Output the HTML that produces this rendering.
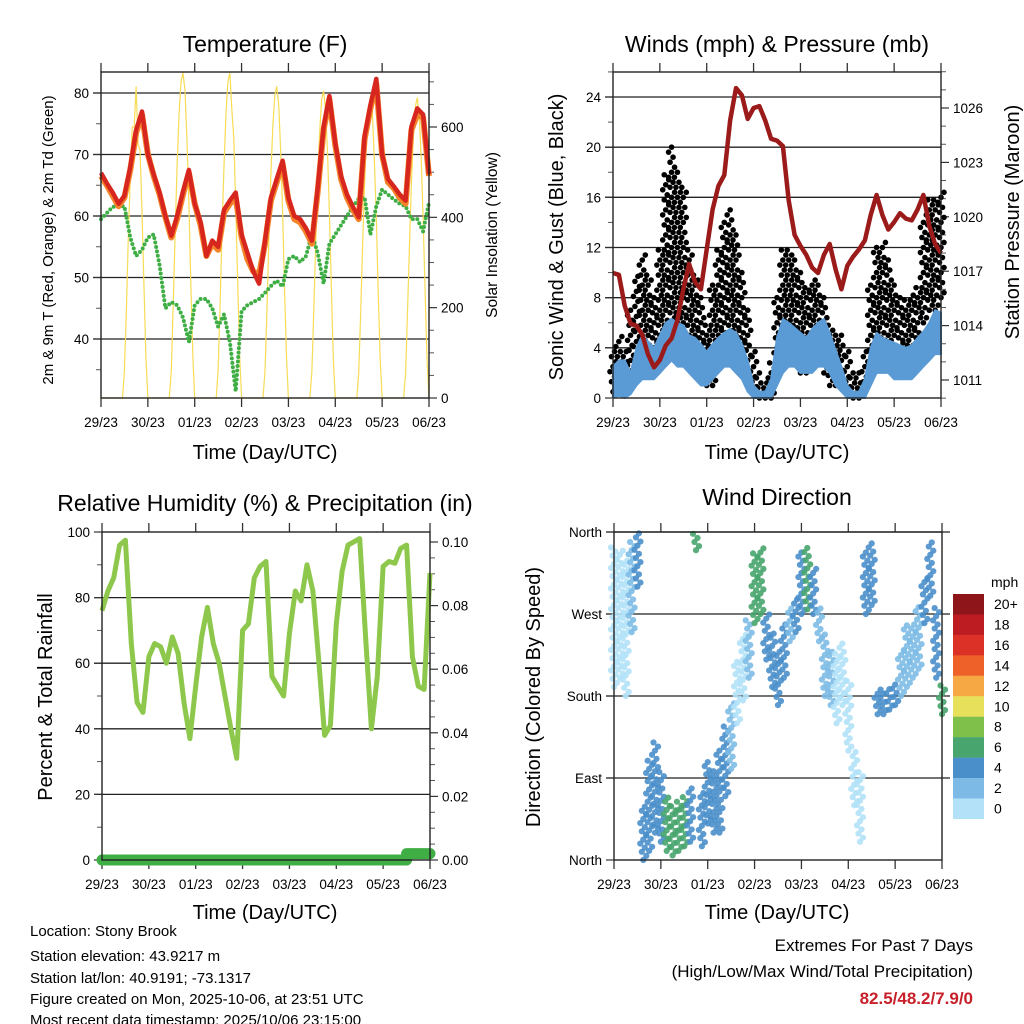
<!DOCTYPE html>
<html><head><meta charset="utf-8">
<style>
html,body{margin:0;padding:0;background:#fff;}
svg{display:block;font-family:"Liberation Sans",Arial,sans-serif;}
</style></head>
<body>
<svg id="chart" width="1024" height="1024" viewBox="0 0 1024 1024" xmlns="http://www.w3.org/2000/svg">
<rect x="0" y="0" width="1024" height="1024" fill="#fff"/>
<g id="layer"></g>
<text x="265" y="52" font-size="23" text-anchor="middle">Temperature (F)</text>
<text x="777" y="52" font-size="23" text-anchor="middle">Winds (mph) &amp; Pressure (mb)</text>
<text x="265" y="511" font-size="23" text-anchor="middle">Relative Humidity (%) &amp; Precipitation (in)</text>
<text x="777" y="505" font-size="23" text-anchor="middle">Wind Direction</text>
<text x="265" y="459" font-size="20" text-anchor="middle">Time (Day/UTC)</text>
<text x="777" y="459" font-size="20" text-anchor="middle">Time (Day/UTC)</text>
<text x="265" y="919" font-size="20" text-anchor="middle">Time (Day/UTC)</text>
<text x="777" y="919" font-size="20" text-anchor="middle">Time (Day/UTC)</text>
<text transform="translate(53,240) rotate(-90)" font-size="15" text-anchor="middle">2m &amp; 9m T (Red, Orange) &amp; 2m Td (Green)</text>
<text transform="translate(497,235) rotate(-90)" font-size="15.5" text-anchor="middle">Solar Insolation (Yellow)</text>
<text transform="translate(563,237) rotate(-90)" font-size="20" text-anchor="middle">Sonic Wind &amp; Gust (Blue, Black)</text>
<text transform="translate(1019,222) rotate(-90)" font-size="20" text-anchor="middle">Station Pressure (Maroon)</text>
<text transform="translate(52,697) rotate(-90)" font-size="20" text-anchor="middle">Percent &amp; Total Rainfall</text>
<text transform="translate(540,697) rotate(-90)" font-size="20" text-anchor="middle">Direction (Colored By Speed)</text>
<g font-size="15">
<text x="30" y="936">Location: Stony Brook</text>
<text x="30" y="961">Station elevation: 43.9217 m</text>
<text x="30" y="983">Station lat/lon: 40.9191; -73.1317</text>
<text x="30" y="1004">Figure created on Mon, 2025-10-06, at 23:51 UTC</text>
<text x="30" y="1025">Most recent data timestamp: 2025/10/06 23:15:00</text>
</g>
<text x="973" y="951" font-size="17" text-anchor="end">Extremes For Past 7 Days</text>
<text x="973" y="977" font-size="17" text-anchor="end">(High/Low/Max Wind/Total Precipitation)</text>
<text x="973" y="1004" font-size="17" font-weight="bold" fill="#c8202a" text-anchor="end">82.5/48.2/7.9/0</text>
</svg>
<script>
// ---- data (3-hourly, t = k*0.125 day, k=0..56) ----
const dayLabels=['29/23','30/23','01/23','02/23','03/23','04/23','05/23','06/23'];
const temp2m=[67,65.3,63.8,62,63.3,68,74,77,70,66.8,63.8,60,56.8,60,64,67.5,62,59,53.5,56,55,61,62.5,63.8,57,54,51,49,56,63,66,69,63,60,59.5,58,56,64.5,74.5,79.5,71.8,66.5,63.5,61.5,59.8,73,78,82.3,70,66,64.8,63.5,62.5,74.5,77.5,76.5,66.8];
const temp9m=[66.5,65,63.3,61.6,63,67.5,73.5,76.5,70,66.5,63.5,59.8,56.5,59.5,63.5,67,62,58.5,53.5,55.5,54.5,60.5,62,63,56.5,53,51,50.5,55.5,62.5,65.5,68.5,62.5,59.5,59,57.5,55.5,64,74,79,71.5,66,63,61,59.5,72.5,77.5,81.5,70,65.5,64.5,63,62,74,76.5,76,66.5];
const dewpoint=[59.5,60.5,61.5,61.6,61.6,56.5,53.5,54.5,56.5,57,52,45,46,45.5,43.5,39.5,45.5,46.5,46.5,45,42,44,39.5,31.5,44.5,45.5,46,46.5,47.5,48.6,49.5,48.5,53,53.5,52.5,53.5,57,54,49,55.5,57,58.5,60,61.5,62.8,63,57,61.6,64.3,63.5,62.7,62,61.6,59.5,59.5,57.5,62.2];
// hourly solar insolation (169 values, hour 0..168)
const solar=[0,0,0,0,0,0,0,0,0,0,0,0,60,195,355,490,600,600,690,560,550,410,245,90,
0,0,0,0,0,0,0,0,0,0,0,0,60,205,370,515,630,700,720,680,575,430,255,95,
0,0,0,0,0,0,0,0,0,0,0,0,60,205,370,515,630,700,720,640,575,430,255,95,
0,0,0,0,0,0,0,0,0,0,0,0,60,195,355,495,600,670,690,650,550,415,245,90,
0,0,0,0,0,0,0,0,0,0,0,0,60,195,350,485,590,660,680,640,545,410,240,85,
0,0,0,0,0,0,0,0,0,0,0,0,55,190,340,475,580,645,665,630,530,400,235,85,
0,0,0,0,0,0,0,0,0,0,0,0,55,190,340,475,580,645,665,625,530,400,235,85,0];
const gustLo=[0.5,0.5,0.5,1,2.5,3,3,2,3,5,6,6,4,3,3,2,1,1,3,4,5,3,2,1,0.5,0,0,0,2,3,3,3,2,2,3,3,2,1,1,1,0.5,0,0,0.5,3,4,4,3,3,2,3,3,4,6,7,7,8];
const gustHi=[4,5,4,7,10,11.5,10,8,12,18,20,18,17,12,10,8,6,9,12,14,15,13,10,7,4,2,1.5,3,8,12,12,11,10,9,9.5,9,8,6,5,5,4,2,2,4,9,12,12.5,11,9,8,8,8.5,9,14,16,16,16.5];
const windLo=[0,0.2,0,0.3,1,1.5,1.5,1.5,2,2.5,3,2.5,2.5,2,1.5,1,1,1.5,2,2.5,2.5,2,1.5,0.5,0,0,0,0,1,2,2.5,2.5,2,2,2,2.5,2.5,2,1,0.5,0,0,0,0,1,2,2,2,1.5,1.5,1.5,1.5,2,2.5,3,3.5,3.5];
const windHi=[2.5,3,3,2,4,5,4.5,4,5,6,6.3,6,5.8,5,4.8,4.3,3.7,4.3,4.8,5.2,5.5,5.2,4.3,3,1,0.5,0.5,1.5,4.8,6.3,6,5.6,5.2,4.8,5.5,6,6.3,5.2,3.8,2.5,1,0.5,0.5,1.5,4,5.2,4.8,4.6,4.4,4.2,4,4.2,4.8,5.3,6,7,6.8];
const pressure=[1016.9,1016.8,1015.1,1014.1,1014.0,1013.5,1012.4,1011.7,1012.1,1012.9,1013.3,1014.3,1016.0,1017.4,1016.4,1016.0,1018.2,1020.4,1021.7,1022.3,1025.3,1027.1,1026.7,1025.4,1026.0,1026.1,1025.3,1024.3,1024.2,1023.9,1020.9,1019.0,1018.4,1017.9,1017.2,1016.9,1017.9,1018.5,1017.1,1016.0,1017.3,1017.8,1018.2,1018.7,1020.1,1021.2,1020.1,1019.3,1019.7,1020.2,1019.9,1019.8,1020.4,1021.2,1019.5,1018.5,1018.0];
const humidity=[76,82,86,96,97.5,66,48,45,62,66,65,60,68,63,48,37,53,68,77,66,60,50,40,31,70,72,86,89.5,91,56,53,50,69,82,79,90,82,61,38,41,72,88,96,97,98,68,40,56,89.5,91,90.5,95,96,62,53,52,87.5];
const precip=[0,0,0,0,0,0,0,0,0,0,0,0,0,0,0,0,0,0,0,0,0,0,0,0,0,0,0,0,0,0,0,0,0,0,0,0,0,0,0,0,0,0,0,0,0,0,0,0,0,0,0,0,0.002,0.002,0.002,0.002,0.002];
const dirLo=[190,200,180,250,300,0,10,30,20,10,5,10,15,20,340,15,40,30,30,70,100,150,175,200,260,270,220,190,170,200,240,250,270,275,270,240,180,170,150,170,120,60,20,270,280,160,160,165,170,180,190,200,210,260,290,200,160];
const dirHi=[345,340,330,350,360,60,110,130,100,70,60,65,70,80,360,75,110,100,120,150,175,220,250,265,340,345,270,250,230,260,280,290,340,345,320,280,250,230,230,240,200,120,100,340,350,190,185,190,195,230,260,260,280,310,350,280,195];
const dirSpeed=[1,1,1,1.5,3,3,3,3,3.5,5,6,5,5,4,6,3,3.5,4,4,3,2,1,1,1.5,5,6,3,4,4,3,2.5,3,4,5,4,2,2,1.5,1,1,1,1,1,3,4,4,4,4,3.5,2,2,2,2.5,3,4,4,6];
const cbLabels=['20+','18','16','14','12','10','8','6','4','2','0'];
const cbColors=['#8e1519','#bc1c22','#dc3127','#ee6128','#f5a844','#e7e05b','#7ec04a','#48a56e','#4a8fca','#7dbbe6','#b3e2f8'];

// ---- helpers ----
const NS='http://www.w3.org/2000/svg';
const root=document.getElementById('layer');
function mk(tag,attrs,parent){const e=document.createElementNS(NS,tag);for(const k in attrs)e.setAttribute(k,attrs[k]);(parent||root).appendChild(e);return e;}
function lin(d0,d1,r0,r1){return v=>r0+(v-d0)*(r1-r0)/(d1-d0);}
function pts(xs,ys){return xs.map((x,i)=>x.toFixed(1)+','+ys[i].toFixed(1)).join(' ');}
const tk=(k)=>k*0.125;
const jit=[-3,0,3,-1.5,1.5];

function drawPanel(p){
  const g=mk('g',{});
  
  
  p.grid.forEach(v=>{const y=p.yL(v);const l=mk('line',{x1:p.x0-8,x2:p.x1+(p.gridRight||0),y1:y,y2:y,stroke:'#222','stroke-width':1.3},g);
    
    });
  for(let d=0;d<=7;d++){const X=p.x0+d*(p.x1-p.x0)/7;
    mk('line',{x1:X,x2:X,y1:p.y0-9,y2:p.y0,stroke:'#333','stroke-width':1.3},g);
    mk('line',{x1:X,x2:X,y1:p.y1,y2:p.y1+9,stroke:'#333','stroke-width':1.3},g);
    const t=mk('text',{x:X,y:p.y1+29,'font-size':13.5,'text-anchor':'middle'},g);t.textContent=dayLabels[d];
    
    }
  p.lMajor.forEach((v,i)=>{const y=p.yL(v);mk('line',{x1:p.x0-8,x2:p.x0,y1:y,y2:y,stroke:'#333','stroke-width':1.2},g);
    const t=mk('text',{x:p.x0-12,y:y+5,'font-size':13.5,'text-anchor':'end'},g);t.textContent=p.lLabels[i];
    
    });
  (p.lMinor||[]).forEach(v=>{const y=p.yL(v);mk('line',{x1:p.x0-5,x2:p.x0,y1:y,y2:y,stroke:'#555','stroke-width':1},g);});
  if(p.yR){
    (p.rMinor||[]).forEach(v=>{const y=p.yR(v);if(y>=p.y0-1&&y<=p.y1+1)mk('line',{x1:p.x1,x2:p.x1+5,y1:y,y2:y,stroke:'#555','stroke-width':1},g);});
    p.rMajor.forEach((v,i)=>{const y=p.yR(v);mk('line',{x1:p.x1,x2:p.x1+8,y1:y,y2:y,stroke:'#333','stroke-width':1.2},g);
      const t=mk('text',{x:p.x1+12,y:y+5,'font-size':13.5,'text-anchor':'start'},g);t.textContent=p.rLabels[i];
      
      });
  }
}
function frame(p){const r=mk('rect',{x:p.x0,y:p.y0,width:p.x1-p.x0,height:p.y1-p.y0,fill:'none',stroke:'#222','stroke-width':1.4});
  
  }

// ---- Panel 1: temperature ----
const P1={name:'temperature',x0:101,x1:429,y0:72,y1:398};
P1.x=lin(0,7,P1.x0,P1.x1);P1.yL=lin(80,40,93,339);P1.yR=lin(0,600,398,127);
P1.grid=[40,50,60,70,80];P1.lMajor=[40,50,60,70,80];P1.lLabels=['40','50','60','70','80'];P1.lMinor=[35,45,55,65,75];
P1.rMajor=[0,200,400,600];P1.rLabels=['0','200','400','600'];P1.rMinor=[50,100,150,250,300,350,450,500,550,650,700];
drawPanel(P1);
{const xs=solar.map((v,i)=>P1.x(i/24)),ys=solar.map(v=>P1.yR(v));
 const l=mk('polyline',{points:pts(xs,ys),fill:'none',stroke:'#f7dc55','stroke-width':1.2});
 
 }
{const xs=dewpoint.map((v,k)=>P1.x(tk(k)));
 const l=mk('polyline',{points:pts(xs,dewpoint.map(v=>P1.yL(v))),fill:'none',stroke:'#3fae44','stroke-width':4,'stroke-dasharray':'0 4.5','stroke-linecap':'round'});
 
 }
{const xs=temp9m.map((v,k)=>P1.x(tk(k)));
 const l=mk('polyline',{points:pts(xs,temp9m.map(v=>P1.yL(v))),fill:'none',stroke:'#f5832a','stroke-width':6,'stroke-linejoin':'round'});
 
 }
{const xs=temp2m.map((v,k)=>P1.x(tk(k)));
 const l=mk('polyline',{points:pts(xs,temp2m.map(v=>P1.yL(v))),fill:'none',stroke:'#d7261e','stroke-width':4.5,'stroke-linejoin':'round'});
 
 }
frame(P1);

// ---- Panel 2: winds & pressure ----
const P2={name:'winds',x0:613,x1:941,y0:72,y1:398};
P2.x=lin(0,7,P2.x0,P2.x1);P2.yL=lin(0,24,398,97);P2.yR=lin(1011,1026,380,108);
P2.grid=[4,8,12,16,20,24];P2.lMajor=[0,4,8,12,16,20,24];P2.lLabels=['0','4','8','12','16','20','24'];P2.lMinor=[2,6,10,14,18,22,26];
P2.rMajor=[1011,1014,1017,1020,1023,1026];P2.rLabels=['1011','1014','1017','1020','1023','1026'];
P2.rMinor=[1010,1012,1013,1015,1016,1018,1019,1021,1022,1024,1025,1027,1028];
drawPanel(P2);
{const g=mk('g',{fill:'#000'});
 
 
 gustLo.forEach((lo,k)=>{const X=P2.x(tk(k));let j=0;for(let v=lo;v<=gustHi[k]+0.01;v+=0.4){j++;
   const c=mk('circle',{cx:X+jit[j%5],cy:P2.yL(v),r:2.8},g);
   
   }});}
{const xs=windHi.map((v,k)=>P2.x(tk(k)));
 const top=xs.map((x,i)=>x.toFixed(1)+','+P2.yL(windHi[i]).toFixed(1));
 const bot=xs.map((x,i)=>x.toFixed(1)+','+P2.yL(windLo[i]).toFixed(1)).reverse();
 const a=mk('polygon',{points:top.concat(bot).join(' '),fill:'#5b9bd5',stroke:'#5b9bd5','stroke-width':2,'stroke-linejoin':'round'});
 
 }
{const xs=pressure.map((v,k)=>P2.x(tk(k)));
 const l=mk('polyline',{points:pts(xs,pressure.map(v=>P2.yR(v))),fill:'none',stroke:'#9b1b1b','stroke-width':4.5,'stroke-linejoin':'round'});
 
 }
frame(P2);

// ---- Panel 3: humidity & precip ----
const P3={name:'humidity',x0:102,x1:430,y0:532,y1:860};
P3.x=lin(0,7,P3.x0,P3.x1);P3.yL=lin(0,100,860,532);P3.yR=lin(0,0.1,860,542);
P3.grid=[20,40,60,80];P3.lMajor=[0,20,40,60,80,100];P3.lLabels=['0','20','40','60','80','100'];P3.lMinor=[10,30,50,70,90];
P3.rMajor=[0,0.02,0.04,0.06,0.08,0.1];P3.rLabels=['0.00','0.02','0.04','0.06','0.08','0.10'];
P3.rMinor=[0.005,0.01,0.015,0.025,0.03,0.035,0.045,0.05,0.055,0.065,0.07,0.075,0.085,0.09,0.095];
drawPanel(P3);
{const xs=humidity.map((v,k)=>P3.x(tk(k)));
 const l=mk('polyline',{points:pts(xs,humidity.map(v=>P3.yL(v))),fill:'none',stroke:'#8dc84c','stroke-width':5,'stroke-linejoin':'round'});
 
 }
{let p=[];precip.forEach((v,k)=>{const X=P3.x(tk(k)),Y=P3.yR(v);if(k>0)p.push(X.toFixed(1)+','+P3.yR(precip[k-1]).toFixed(1));p.push(X.toFixed(1)+','+Y.toFixed(1));});
 const l=mk('polyline',{points:p.join(' '),fill:'none',stroke:'#3fae44','stroke-width':11,'stroke-linecap':'round','stroke-linejoin':'round'});
 
 }
frame(P3);

// ---- Panel 4: wind direction ----
const P4={name:'direction',x0:614,x1:942,y0:532,y1:860,gridRight:8};
P4.x=lin(0,7,P4.x0,P4.x1);P4.yL=lin(0,360,860,532);
P4.grid=[90,180,270,360];P4.lMajor=[0,90,180,270,360];P4.lLabels=['North','East','South','West','North'];
drawPanel(P4);
function spdColor(s){const edges=[1.5,3,5,7,9,11,13,15,17,19];for(let i=0;i<edges.length;i++)if(s<edges[i])return cbColors[10-i];return cbColors[0];}
{const g=mk('g',{});
 
 
 dirLo.forEach((lo,k)=>{const X=P4.x(tk(k));const col=spdColor(dirSpeed[k]);let j=0;
   for(let d=lo;d<=dirHi[k]+0.01;d+=4.5){j++;
     const c=mk('circle',{cx:X+jit[j%5],cy:P4.yL(d),r:3.1,fill:col,opacity:0.9},g);
     
     }});}
frame(P4);

// colorbar
{const g=mk('g',{});
 
 
 const t=mk('text',{x:991,y:587,'font-size':14},g);t.textContent='mph';
 
 
 cbColors.forEach((c,i)=>{const y=594+i*20.45;
   const r=mk('rect',{x:953,y:y,width:31,height:20.6,fill:c},g);
   
   
   const l=mk('text',{x:994,y:y+15,'font-size':14},g);l.textContent=cbLabels[i];
   
   });}
</script>
</body></html>
